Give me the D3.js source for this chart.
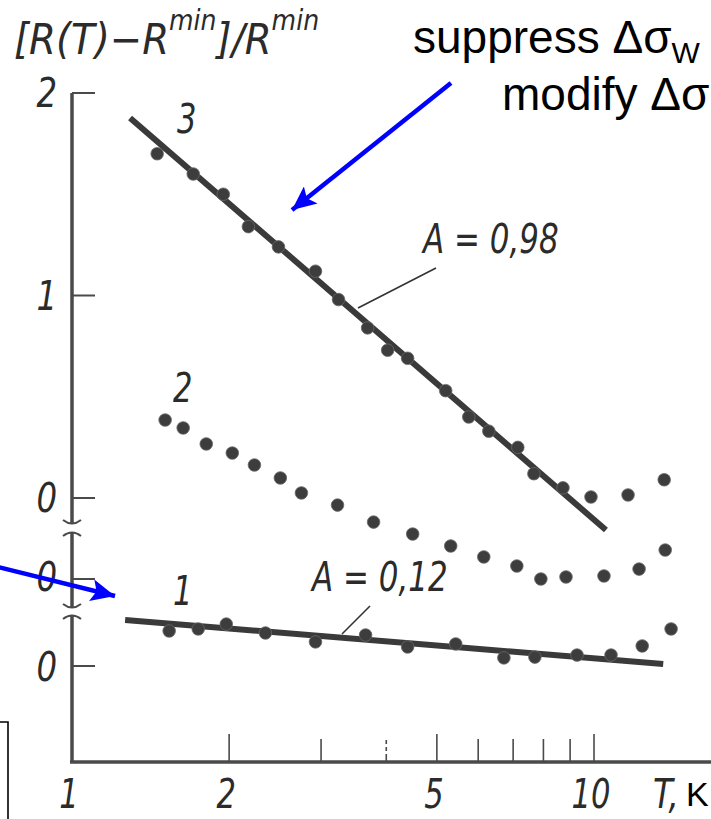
<!DOCTYPE html>
<html>
<head>
<meta charset="utf-8">
<script src="https://cdn.jsdelivr.net/npm/d3@7"></script>
<style>
  html, body { margin: 0; padding: 0; background: #fff; }
  svg { display: block; }
  .tech { font-family: "Liberation Sans Narrow", "DejaVu Sans Condensed", "Liberation Sans", sans-serif; font-style: italic; fill: #2b2b2b; }
  .note { font-family: "Liberation Sans", Arial, sans-serif; fill: #000; }
</style>
</head>
<body>
<svg id="chart" width="711" height="819"></svg>
<script>
// Temperature (K) and normalised resistance change for the three samples
const curve3T = [1.456, 1.707, 1.949, 2.177, 2.486, 2.927, 3.240, 3.684, 4.024, 4.395, 5.199, 5.756, 6.288, 7.146, 7.670, 8.720, 9.868, 11.62, 13.63];
const curve3V = [1.70, 1.60, 1.50, 1.34, 1.24, 1.12, 0.98, 0.84, 0.73, 0.69, 0.53, 0.40, 0.33, 0.25, 0.12, 0.05, 0.005, 0.015, 0.09];

const curve2T = [1.508, 1.633, 1.808, 2.028, 2.236, 2.507, 2.751, 3.226, 3.782, 4.494, 5.315, 6.150, 7.115, 7.911, 8.838, 10.45, 12.20, 13.69];
const curve2V = [0.785, 0.746, 0.667, 0.622, 0.563, 0.499, 0.425, 0.365, 0.281, 0.222, 0.163, 0.109, 0.064, 0.0, 0.010, 0.015, 0.049, 0.143];

const curve1T = [1.535, 1.745, 1.975, 2.347, 2.927, 3.651, 4.395, 5.434, 6.720, 7.705, 9.278, 10.78, 12.37, 14.05];
const curve1V = [0.173, 0.183, 0.207, 0.163, 0.119, 0.153, 0.094, 0.109, 0.040, 0.044, 0.054, 0.054, 0.099, 0.183];

// Straight-line fits (ends of each line)
const fit3T = [1.292, 10.54];
const fit3V = [1.877, -0.158];
const fit1T = [1.264, 13.57];
const fit1V = [0.227, 0.010];

// Axis ticks and labels
const xMajorTicks = [2, 5, 10];
const xMinorTicks = [3, 6, 7, 8, 9];
const xDashedTicks = [4];
const xLabelValues = [1, 2, 5, 10];
const xLabelText = ["1", "2", "5", "10"];
const yTopTicks = [0, 1, 2];
const yTopLabels = ["0", "1", "2"];

const svg = d3.select("#chart");
const ink = "#3a3a3a";

// Log temperature axis
const x = d3.scaleLog().domain([1, 10]).range([72, 594]);
// Three vertically offset panels sharing one unit length
const unit = 202.5;
const y3 = d3.scaleLinear().domain([0, 2]).range([498, 498 - 2 * unit]);
const y2 = d3.scaleLinear().domain([0, 1]).range([579, 579 - unit]);
const y1 = d3.scaleLinear().domain([0, 1]).range([666, 666 - unit]);
const xAxisY = 762;

svg.append("rect").attr("width", 711).attr("height", 819).attr("fill", "#fff");

// Condensed italic label placed at (px, py)
function techText(parent, px, py, str, size, anchor, sx) {
  return parent.append("g")
    .attr("transform", `translate(${px},${py}) scale(${sx},1)`)
    .append("text").attr("class", "tech").attr("font-size", size)
    .attr("text-anchor", anchor || "start").text(str);
}

// ---- vertical axis, broken into three pieces ----
const axisG = svg.append("g").attr("stroke", "#4a4a4a").attr("fill", "none");
const ax = x(1);
const segments = [[y3(2), 523], [533, 607], [616, xAxisY]];
segments.forEach(([a, b]) => {
  axisG.append("line").attr("x1", ax).attr("x2", ax).attr("y1", a).attr("y2", b)
    .attr("stroke-width", 3.5);
});
// curly break caps
[[523, 1], [533, -1], [607, 1], [616, -1]].forEach(([yy, dir]) => {
  axisG.append("path")
    .attr("d", `M${ax - 9},${yy - 3 * dir} Q${ax},${yy + 4 * dir} ${ax + 9},${yy - 3 * dir}`)
    .attr("stroke-width", 2);
});

// y ticks (pointing right)
const yTickLen = 23;
yTopTicks.forEach(v => {
  axisG.append("line").attr("x1", ax).attr("x2", ax + yTickLen)
    .attr("y1", y3(v)).attr("y2", y3(v)).attr("stroke-width", 2);
});
[y2(0), y1(0)].forEach(yy => {
  axisG.append("line").attr("x1", ax).attr("x2", ax + yTickLen)
    .attr("y1", yy).attr("y2", yy).attr("stroke-width", 2);
});

// y tick labels
const yLabG = svg.append("g");
yTopTicks.forEach((v, i) => {
  techText(yLabG, 57, y3(v) + 14, yTopLabels[i], 40, "end", 0.9);
});
techText(yLabG, 57, y2(0) + 12, "0", 40, "end", 0.9);
techText(yLabG, 57, y1(0) + 15, "0", 40, "end", 0.9);

// ---- horizontal axis ----
axisG.append("line").attr("x1", ax - 2).attr("x2", 711).attr("y1", xAxisY).attr("y2", xAxisY)
  .attr("stroke-width", 3.5);
xMajorTicks.forEach(t => {
  axisG.append("line").attr("x1", x(t)).attr("x2", x(t)).attr("y1", xAxisY).attr("y2", xAxisY - 28)
    .attr("stroke-width", 1.6);
});
xMinorTicks.forEach(t => {
  axisG.append("line").attr("x1", x(t)).attr("x2", x(t)).attr("y1", xAxisY).attr("y2", xAxisY - 23)
    .attr("stroke-width", 1.6);
});
xDashedTicks.forEach(t => {
  axisG.append("line").attr("x1", x(t)).attr("x2", x(t)).attr("y1", xAxisY).attr("y2", xAxisY - 22)
    .attr("stroke-width", 1.6).attr("stroke-dasharray", "8,3,4,3");
});

const xLabG = svg.append("g");
xLabelValues.forEach((t, i) => {
  techText(xLabG, x(t) - 3, 808, xLabelText[i], 40, "middle", 0.85);
});
techText(svg, 653, 808, "T,", 40, "start", 0.9);
svg.append("text").attr("class", "note").attr("font-size", 34).attr("x", 686).attr("y", 806).text("K");

// ---- axis title ----
const title = svg.append("text").attr("class", "tech").attr("font-size", 43).attr("x", 14).attr("y", 54);
title.append("tspan").text("[R(T)−R");
title.append("tspan").attr("font-size", 28).attr("dy", -24).text("min");
title.append("tspan").attr("dy", 24).text("]/R");
title.append("tspan").attr("font-size", 28).attr("dy", -24).text("min");

// ---- fit lines ----
const line = (xs, ys, yScale) => d3.line()(xs.map((t, i) => [x(t), yScale(ys[i])]));
svg.append("path").attr("d", line(fit3T, fit3V, y3))
  .attr("stroke", ink).attr("stroke-width", 6).attr("fill", "none").attr("stroke-linecap", "butt");
svg.append("path").attr("d", line(fit1T, fit1V, y1))
  .attr("stroke", ink).attr("stroke-width", 6).attr("fill", "none").attr("stroke-linecap", "butt");

// ---- data points ----
const drawPoints = (ts, vs, yScale) => {
  svg.append("g").selectAll("circle").data(ts).join("circle")
    .attr("cx", d => x(d))
    .attr("cy", (d, i) => yScale(vs[i]))
    .attr("r", 6.3)
    .attr("fill", "#3d3d3d")
    .attr("stroke", "#6a6a6a")
    .attr("stroke-width", 0.8);
};
drawPoints(curve3T, curve3V, y3);
drawPoints(curve2T, curve2V, y2);
drawPoints(curve1T, curve1V, y1);

// ---- curve numbers and fit annotations ----
const lab = svg.append("g");
techText(lab, 177, 133, "3", 40, "start", 0.85);
techText(lab, 173, 402, "2", 40, "start", 0.85);
techText(lab, 173, 605, "1", 40, "start", 0.85);
techText(lab, 423, 253, "A = 0,98", 40, "start", 0.86);
techText(lab, 312, 591, "A = 0,12", 40, "start", 0.86);

svg.append("line").attr("x1", 436).attr("y1", 268).attr("x2", 358).attr("y2", 308)
  .attr("stroke", "#333").attr("stroke-width", 1.6);
svg.append("line").attr("x1", 370).attr("y1", 606).attr("x2", 342).attr("y2", 634)
  .attr("stroke", "#333").attr("stroke-width", 1.6);

// ---- slide annotations ----
const note = svg.append("g").attr("class", "note").attr("font-size", 46);
const n1 = note.append("text").attr("x", 413).attr("y", 53);
n1.append("tspan").text("suppress Δσ");
n1.append("tspan").attr("font-size", 30).attr("dy", 10).text("W");
note.append("text").attr("x", 502).attr("y", 110).text("modify Δσ");

// blue arrows
const defs = svg.append("defs");
defs.append("marker").attr("id", "head").attr("markerUnits", "userSpaceOnUse")
  .attr("markerWidth", 26).attr("markerHeight", 22)
  .attr("refX", 24).attr("refY", 11).attr("orient", "auto")
  .append("path").attr("d", "M0,0 L24,11 L0,22 L5,11 Z").attr("fill", "#0000ff");

svg.append("line").attr("x1", 451).attr("y1", 83).attr("x2", 292).attr("y2", 210)
  .attr("stroke", "#0000ff").attr("stroke-width", 4.5).attr("marker-end", "url(#head)");
svg.append("line").attr("x1", -2).attr("y1", 567).attr("x2", 115).attr("y2", 596)
  .attr("stroke", "#0000ff").attr("stroke-width", 4.5).attr("marker-end", "url(#head)");

// frame fragment at lower left
svg.append("path").attr("d", "M0,722 H8 V819").attr("fill", "none")
  .attr("stroke", "#000").attr("stroke-width", 1.6);
</script>
</body>
</html>
